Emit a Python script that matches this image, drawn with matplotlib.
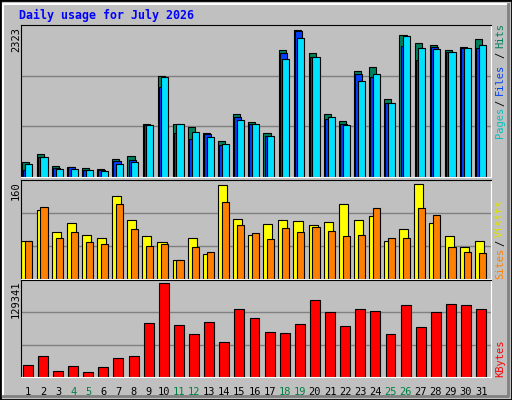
import matplotlib
matplotlib.use("Agg")
import matplotlib.pyplot as plt
from matplotlib.patches import Rectangle
import numpy as np

# ===== Daten =====
days = list(range(1, 32))
weekend = [4, 5, 11, 12, 18, 19, 25, 26]
hits = [235, 357, 174, 158, 143, 128, 281, 317, 817, 1552, 817, 771, 679, 556, 970, 847,
        679, 1950, 2257, 1904, 970, 863, 1629, 1690, 1200, 2180, 2057, 2027, 1950, 1996, 2119]
files = [102, 306, 143, 148, 112, 102, 250, 265, 801, 1383, 679, 587, 664, 495, 924, 817,
         633, 1904, 2236, 1843, 893, 817, 1583, 1537, 1138, 2016, 1797, 1996, 1919, 1981, 1981]
pages = [204, 311, 128, 128, 112, 97, 204, 235, 801, 1537, 817, 694, 618, 510, 878, 817,
         633, 1812, 2134, 1843, 924, 801, 1475, 1583, 1138, 2165, 1981, 1965, 1919, 1981, 2027]
visits = [62, 111, 76, 91, 71, 66, 134, 96, 69, 59, 31, 66, 41, 152, 97, 71,
          89, 96, 94, 87, 92, 121, 96, 102, 61, 81, 154, 91, 69, 52, 61]
sites = [61, 116, 67, 76, 59, 56, 121, 81, 54, 56, 31, 51, 44, 124, 87, 74,
         64, 82, 76, 84, 77, 69, 71, 114, 67, 66, 114, 104, 51, 44, 42]
kbytes = [16048, 28792, 8968, 14632, 7552, 13216, 25960, 28792, 74104, 129341, 71272, 59944,
          75520, 48616, 93928, 81184, 62776, 61360, 72688, 106672, 89680, 69856, 93928, 91096,
          59944, 99592, 68440, 89680, 101008, 99592, 93928]
max_hits, max_visits, max_kb = 2323, 160, 129341

W, H = 512, 400
BG = '#C0C0C0'
fig = plt.figure(figsize=(W / 100, H / 100), dpi=100, facecolor=BG)
mono = 'DejaVu Sans Mono'

# Rahmen / Bevel
fig.patches.append(Rectangle((0, 0), 1, 1, transform=fig.transFigure, fill=False, ec='black', lw=2))
fig.add_artist(plt.Line2D([3/W, 3/W, 508/W], [4/H, 396/H, 396/H], transform=fig.transFigure, color='white', lw=1.5))
fig.add_artist(plt.Line2D([3/W, 508/W, 508/W], [4/H, 4/H, 396/H], transform=fig.transFigure, color='#808080', lw=2))

def make_ax(top, bottom, ymax):
    ax = fig.add_axes([21/W, 1 - bottom/H, (491-21)/W, (bottom-top)/H])
    ax.set_facecolor(BG)
    ax.set_xlim(0.45, 31.55)
    ax.set_ylim(0, ymax)
    ax.set_xticks([]); ax.set_yticks([])
    for y in (ymax/3, 2*ymax/3):
        ax.axhline(y, color='#808080', lw=1, zorder=0)
    for s in ('left', 'top'):
        ax.spines[s].set_color('black')
    for s in ('right', 'bottom'):
        ax.spines[s].set_color('white')
    return ax

x = np.array(days)
ax1 = make_ax(25, 177, max_hits * 1.005)
ax1.bar(x - 0.27, hits, width=0.47, color='#00805C', ec='black', lw=0.8)
ax1.bar(x - 0.2, files, width=0.47, color='#0040FF', ec='black', lw=0.8)
ax1.bar(x - 0.03, pages, width=0.47, color='#00E0FF', ec='black', lw=0.8)

ax2 = make_ax(180, 279, max_visits)
ax2.bar(x - 0.22, visits, width=0.6, color='#FFFF00', ec='black', lw=0.8)
ax2.bar(x - 0.03, sites, width=0.47, color='#FF8000', ec='black', lw=0.8)

ax3 = make_ax(280, 377, max_kb * 284 / 274)
ax3.bar(x - 0.1, kbytes, width=0.66, color='#FF0000', ec='black', lw=0.8)

for d in days:
    ax3.text(d - 0.1, -0.1, str(d), transform=ax3.get_xaxis_transform(), ha='center', va='top',
             fontsize=7.5, family=mono, color='#008040' if d in weekend else 'black')

def ftext(px, py, s, **kw):
    fig.text(px / W, 1 - py / H, s, **kw)

ftext(19, 15, 'Daily usage for July 2026', color='#0000FF', fontsize=8.4, family=mono,
      weight='bold', va='center')
ftext(16, 27, '2323', rotation=90, fontsize=7.5, family=mono, ha='center', va='top')
ftext(16, 181, '160', rotation=90, fontsize=7.5, family=mono, ha='center', va='top')
ftext(16, 281, '129341', rotation=90, fontsize=7.5, family=mono, ha='center', va='top')

rk = dict(rotation=90, fontsize=7.5, family=mono, ha='center', va='center')
ftext(500, 36, 'Hits', color='#00805C', **rk)
ftext(500, 55, '/', color='black', **rk)
ftext(500, 79, 'Files', color='#0040FF', **rk)
ftext(500, 103, '/', color='black', **rk)
ftext(500, 122, 'Pages', color='#00C0C0', **rk)
ftext(500, 218, 'Visits', color='#E0E000', **rk)
ftext(500, 243, '/', color='black', **rk)
ftext(500, 263, 'Sites', color='#FF8000', **rk)
ftext(500, 358, 'KBytes', color='#FF0000', **rk)

fig.savefig('out.png', dpi=100, facecolor=BG)
